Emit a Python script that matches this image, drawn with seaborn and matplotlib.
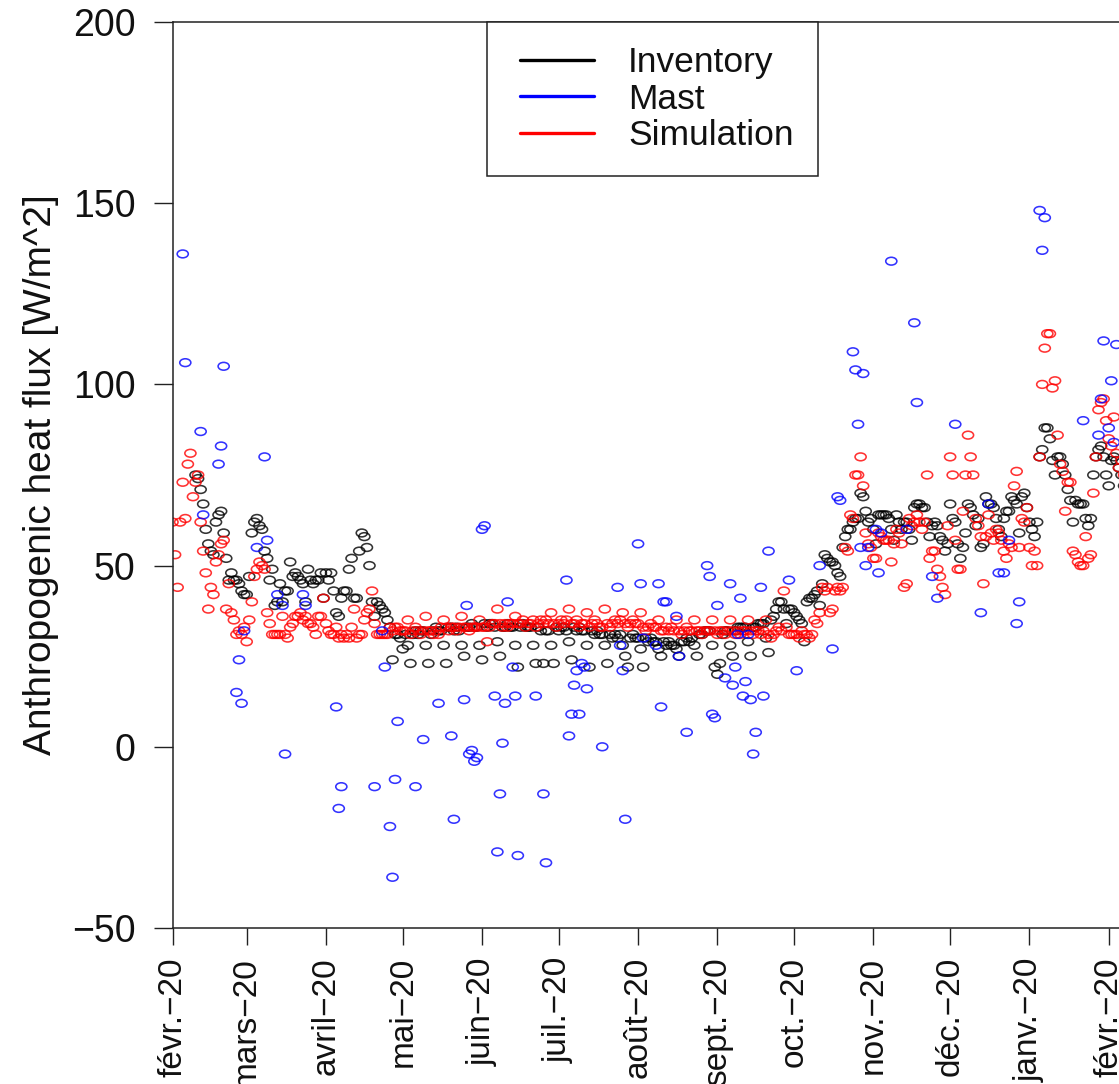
import numpy as np
import pandas as pd
import matplotlib
matplotlib.use("Agg")
import matplotlib.pyplot as plt
import matplotlib.dates as mdates
import seaborn as sns
from matplotlib.path import Path
from matplotlib.transforms import Affine2D
from matplotlib.lines import Line2D
from matplotlib.legend_handler import HandlerLine2D

nan = np.nan
start_date = "2020-02-01"

# Daily inventory values (black), starting 2020-02-01
inventory = [
    nan, nan, nan, nan, nan, nan, nan,
    nan, nan, 75, 74, 71, 67, 60,
    56, 54, 53, 62, 64, 65, 59,
    52, 46, 48, 46, 46, 45, 43,
    42, 42, 47, 59, 62, 63, 61,
    60, 54, 52, 46, 49, 39, 40,
    45, 40, 43, 43, 51, 47, 48,
    47, 46, 45, 40, 49, 46, 45,
    46, 46, 48, 41, 48, 46, 48,
    43, 37, 36, 41, 43, 43, 49,
    52, 41, 41, 54, 59, 58, 55,
    50, 40, 36, 40, 39, 38, 37,
    35, 33, 24, 31, 31, 30, 27,
    31, 28, 23, 31, 32, 31, 32,
    32, 28, 23, 31, 32, 33, 32,
    32, 28, 23, 33, 33, 32, 33,
    32, 28, 25, 33, 33, 34, 33,
    33, 28, 24, 34, 33, 34, 34,
    33, 29, 25, 33, 33, 34, 33,
    33, 28, 22, 33, 34, 33, 33,
    33, 28, 23, 33, 32, 23, 32,
    32, 28, 23, 33, 32, 33, 33,
    32, 29, 24, 33, 32, 33, 32,
    32, 28, 22, 32, 31, 32, 31,
    31, 28, 23, 31, 30, 31, 30,
    31, 28, 25, 22, 30, 31, 30,
    30, 27, 22, 30, 29, 30, 29,
    29, 27, 25, 29, 28, 29, 28,
    28, 27, 25, 29, 29, 30, 29,
    30, 28, 25, 31, 31, 32, 32,
    32, 28, 22, 20, 23, 31, 32,
    32, 28, 25, 32, 33, 33, 33,
    33, 29, 25, 33, 33, 34, 34,
    34, 30, 26, 35, 36, 38, 40,
    40, 38, 34, 38, 38, 37, 36,
    35, 34, 29, 40, 41, 41, 42,
    43, 39, 45, 53, 52, 51, 51,
    50, 48, 47, 55, 58, 60, 60,
    62, 63, 63, 70, 69, 65, 62,
    63, 60, 56, 64, 64, 64, 64,
    63, 60, 57, 64, 62, 60, 62,
    62, 60, 57, 66, 67, 67, 66,
    66, 62, 58, 61, 62, 61, 58,
    57, 54, 56, 67, 63, 62, 56,
    52, 55, 59, 67, 66, 64, 61,
    63, 55, 56, 69, 67, 67, 66,
    63, 60, 58, 63, 65, 65, 69,
    68, 67, 59, 69, 70, 66, 62,
    60, 58, 62, 80, 82, 88, 88,
    85, 79, 75, 80, 80, 78, 75,
    71, 68, 62, 68, 67, 67, 67,
    63, 61, 63, 75, 80, 82, 83,
    80, 75, 72, 79, 80, 79, 77,
    75, 72,
]

# Daily simulation values (red), starting 2020-02-01
simulation = [
    62, 53, 44, 62, 73, 63, 78,
    81, 69, 73, 75, 62, 54, 48,
    38, 44, 42, 51, 53, 56, 57,
    38, 45, 37, 35, 31, 32, 31,
    33, 29, 35, 40, 47, 49, 51,
    50, 49, 37, 34, 31, 31, 31,
    31, 36, 31, 30, 33, 34, 36,
    36, 37, 35, 36, 34, 34, 33,
    31, 36, 36, 41, 34, 32, 31,
    31, 33, 30, 31, 30, 31, 30,
    33, 38, 30, 31, 31, 35, 37,
    38, 43, 34, 31, 31, 31, 31,
    31, 33, 32, 33, 33, 32, 32,
    32, 35, 31, 32, 33, 32, 31,
    32, 36, 32, 32, 31, 32, 31,
    33, 35, 33, 32, 33, 33, 32,
    33, 36, 33, 33, 32, 33, 33,
    33, 35, 33, 33, 29, 33, 34,
    34, 38, 34, 33, 34, 33, 34,
    34, 36, 34, 34, 35, 33, 34,
    34, 35, 33, 34, 35, 34, 35,
    34, 37, 34, 33, 34, 35, 34,
    35, 38, 34, 34, 35, 33, 34,
    34, 37, 33, 34, 35, 34, 33,
    33, 38, 34, 33, 34, 35, 34,
    35, 37, 34, 33, 34, 35, 34,
    34, 37, 33, 32, 33, 34, 33,
    33, 35, 32, 32, 33, 32, 33,
    32, 35, 32, 31, 32, 33, 32,
    32, 35, 32, 32, 31, 32, 32,
    32, 35, 32, 31, 32, 32, 31,
    32, 35, 32, 31, 32, 31, 32,
    32, 35, 32, 31, 32, 32, 31,
    32, 35, 31, 30, 31, 32, 33,
    32, 43, 33, 31, 31, 31, 31,
    30, 32, 31, 31, 30, 31, 35,
    34, 37, 44, 43, 44, 37, 38,
    43, 44, 43, 44, 55, 54, 64,
    63, 75, 75, 80, 72, 59, 56,
    55, 52, 52, 59, 58, 57, 57,
    57, 51, 56, 60, 59, 56, 44,
    45, 63, 61, 62, 64, 62, 60,
    62, 75, 52, 54, 54, 49, 47,
    44, 42, 61, 80, 75, 57, 49,
    49, 65, 75, 86, 80, 75, 63,
    61, 58, 45, 58, 64, 59, 57,
    60, 59, 57, 54, 52, 56, 55,
    72, 76, 55, 63, 62, 66, 55,
    50, 54, 50, 80, 100, 110, 114,
    114, 99, 101, 86, 78, 76, 65,
    73, 73, 54, 53, 51, 50, 50,
    58, 52, 53, 70, 80, 93, 95,
    96, 90, 85, 83, 91, 81, 77,
    79, 75,
]

# Mast observations (blue): day offset from 2020-02-01 and value
mast_day = [
    4, 5, 11, 12, 18, 19, 20, 25, 26, 27, 28, 33, 36, 37, 41, 43, 44, 51, 52,
    64, 65, 66, 79, 82, 83, 85, 86, 87, 88, 95, 98, 104, 109, 110, 114, 115,
    116, 117, 118, 119, 121, 122,
    126, 127, 128, 129, 130, 131, 133, 134, 135, 142, 145, 146, 154, 155, 156,
    157, 158, 159, 160, 161, 162, 168, 174, 175, 176, 177, 182, 183,
    184, 189, 190, 191, 192, 193, 197, 198, 201, 209, 210, 211, 212, 213, 216,
    218, 219, 220, 221, 222, 223, 224, 225, 226, 227, 228, 230, 231, 233, 241, 244,
    253, 258, 260, 261, 266, 267, 268, 269, 270, 271, 272, 275, 276, 277, 281,
    287, 290, 291, 297, 299, 306,
    316, 319, 323, 325, 327, 330, 331, 339, 340, 341, 356, 362, 363, 364, 366,
    367, 368, 369,
]
mast_value = [
    136, 106, 87, 64, 78, 83, 105, 15, 24, 12, 32, 55, 80, 57, 42, 39, -2, 42, 39,
    11, -17, -11, -11, 32, 22, -22, -36, -9, 7, -11, 2, 12, 3, -20, 13, 39,
    -2, -1, -4, -3, 60, 61,
    14, -29, -13, 1, 12, 40, 22, 14, -30, 14, -13, -32, 46, 3, 9,
    17, 21, 9, 23, 22, 16, 0, 44, 28, 21, -20, 56, 45,
    30, 28, 45, 11, 40, 40, 36, 25, 4, 50, 47, 9, 8, 39, 19,
    45, 17, 22, 31, 41, 14, 18, 31, 13, -2, 4, 44, 14, 54, 46, 21,
    50, 27, 69, 68, 109, 104, 89, 55, 103, 50, 55, 60, 48, 59, 134,
    60, 117, 95, 47, 41, 89,
    37, 67, 48, 48, 57, 34, 40, 148, 137, 146, 90, 86, 96, 112, 88,
    101, 84, 111,
]

month_ticks = ["2020-02-01", "2020-03-01", "2020-04-01", "2020-05-01", "2020-06-01",
               "2020-07-01", "2020-08-01", "2020-09-01", "2020-10-01", "2020-11-01",
               "2020-12-01", "2021-01-01", "2021-02-01"]
month_labels = ["févr.\u221220", "mars\u221220", "avril\u221220", "mai\u221220",
                "juin\u221220", "juil.\u221220", "août\u221220", "sept.\u221220",
                "oct.\u221220", "nov.\u221220", "déc.\u221220", "janv.\u221220",
                "févr.\u221220"]
y_ticks = [-50, 0, 50, 100, 150, 200]
y_tick_labels = ["\u221250", "0", "50", "100", "150", "200"]
series_names = ["Inventory", "Mast", "Simulation"]
series_colors = ["black", "blue", "red"]

sns.set_theme(style="ticks")
plt.rcParams["font.family"] = ["Liberation Sans", "DejaVu Sans"]

start = pd.Timestamp(start_date)
df = pd.concat([
    pd.DataFrame({"date": pd.date_range(start, periods=len(inventory), freq="D"),
                  "flux": inventory, "series": "Inventory"}),
    pd.DataFrame({"date": start + pd.to_timedelta(mast_day, unit="D"),
                  "flux": mast_value, "series": "Mast"}),
    pd.DataFrame({"date": pd.date_range(start, periods=len(simulation), freq="D"),
                  "flux": simulation, "series": "Simulation"}),
]).dropna()

W, H = 1119, 1084
fig = plt.figure(figsize=(W / 100, H / 100), dpi=100)
x0, x1 = pd.Timestamp("2020-02-01"), pd.Timestamp("2021-03-01")
px_per_day = 2.558
ax_w = (x1 - x0).days * px_per_day
left_px, top_px, bottom_px = 172.5, 22, 928
ax = fig.add_axes([left_px / W, (H - bottom_px) / H, ax_w / W, (bottom_px - top_px) / H])

ellipse = Path.unit_circle().transformed(Affine2D().scale(1.0, 0.7))
color_of = dict(zip(series_names, series_colors))
for name in ["Inventory", "Simulation", "Mast"]:
    col = color_of[name]
    sns.scatterplot(data=df[df["series"] == name], x="date", y="flux", ax=ax,
                    marker=ellipse, s=64, color=col, facecolor="none",
                    edgecolor=col, linewidth=1.15, alpha=0.8, legend=False)

ax.set_xlim(x0, x1)
ax.set_ylim(-50, 200)
ax.set_yticks(y_ticks)
ax.set_yticklabels(y_tick_labels)
ax.set_xticks(mdates.date2num(pd.to_datetime(month_ticks).to_pydatetime()))
ax.set_xticklabels(month_labels, rotation=90, fontsize=24)
ax.tick_params(axis="y", length=13.7, width=1.0, labelsize=27, pad=13,
               direction="out", color="#222222", labelcolor="#111111")
ax.tick_params(axis="x", length=12, width=1.0, pad=9, direction="out",
               color="#222222", labelcolor="#111111")
for sp in ax.spines.values():
    sp.set_linewidth(1.1)
    sp.set_color("#222222")
ax.set_xlabel("")
ax.set_ylabel("Anthropogenic heat flux [W/m^2]", fontsize=28, va="baseline",
              color="#111111")
ax.yaxis.set_label_coords((51 - left_px) / ax_w, 0.5)

handles = [Line2D([], [], color=c, lw=2.4) for c in series_colors]
leg = ax.legend(handles, series_names, loc="upper left",
                bbox_to_anchor=(487 / W, 1 - top_px / H), bbox_transform=fig.transFigure,
                frameon=True, fancybox=False, edgecolor="#222222", framealpha=1,
                fontsize=25.5, handlelength=2.35, handletextpad=0.95, borderpad=0.68,
                labelspacing=0.1, borderaxespad=0,
                handler_map={Line2D: HandlerLine2D(xpad=0.25)})
leg.get_frame().set_linewidth(1.1)
for t in leg.get_texts():
    t.set_color("#111111")

fig.savefig("out.png", dpi=100)
